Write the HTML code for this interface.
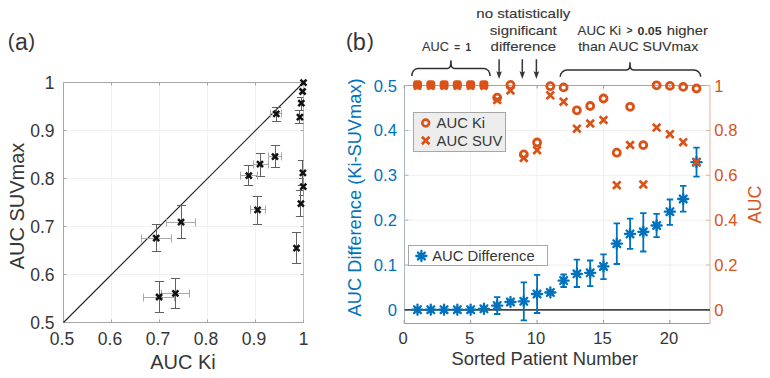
<!DOCTYPE html>
<html><head><meta charset="utf-8"><style>
html,body{margin:0;padding:0;background:#fff;}
svg{display:block;font-family:"Liberation Sans", sans-serif;}
</style></head><body>
<svg width="770" height="378" viewBox="0 0 770 378">
<text x="7.8" y="47.9" font-size="20.5" fill="#363636">(<tspan font-size="23" dy="2.4" dx="0.3">a</tspan><tspan dy="-2.4" dx="0.6">)</tspan></text>
<line x1="111.49999999999999" y1="82.5" x2="111.49999999999999" y2="322.5" stroke="#f1f1f1" stroke-width="1"/>
<line x1="63.5" y1="274.5" x2="303.5" y2="274.5" stroke="#f1f1f1" stroke-width="1"/>
<line x1="159.49999999999997" y1="82.5" x2="159.49999999999997" y2="322.5" stroke="#f1f1f1" stroke-width="1"/>
<line x1="63.5" y1="226.50000000000003" x2="303.5" y2="226.50000000000003" stroke="#f1f1f1" stroke-width="1"/>
<line x1="207.50000000000003" y1="82.5" x2="207.50000000000003" y2="322.5" stroke="#f1f1f1" stroke-width="1"/>
<line x1="63.5" y1="178.49999999999997" x2="303.5" y2="178.49999999999997" stroke="#f1f1f1" stroke-width="1"/>
<line x1="255.5" y1="82.5" x2="255.5" y2="322.5" stroke="#f1f1f1" stroke-width="1"/>
<line x1="63.5" y1="130.5" x2="303.5" y2="130.5" stroke="#f1f1f1" stroke-width="1"/>
<path d="M303.5,82.5H63.5V322.5H303.5" fill="none" stroke="#a6a6a6" stroke-width="1"/>
<line x1="303.5" y1="82.5" x2="303.5" y2="322.5" stroke="#c0c0c0" stroke-width="1"/>
<line x1="63.5" y1="322.5" x2="63.5" y2="319.5" stroke="#a6a6a6"/>
<line x1="63.5" y1="82.5" x2="63.5" y2="85.5" stroke="#a6a6a6"/>
<line x1="63.5" y1="322.5" x2="66.5" y2="322.5" stroke="#a6a6a6"/>
<line x1="303.5" y1="322.5" x2="300.5" y2="322.5" stroke="#a6a6a6"/>
<line x1="111.49999999999999" y1="322.5" x2="111.49999999999999" y2="319.5" stroke="#a6a6a6"/>
<line x1="111.49999999999999" y1="82.5" x2="111.49999999999999" y2="85.5" stroke="#a6a6a6"/>
<line x1="63.5" y1="274.5" x2="66.5" y2="274.5" stroke="#a6a6a6"/>
<line x1="303.5" y1="274.5" x2="300.5" y2="274.5" stroke="#a6a6a6"/>
<line x1="159.49999999999997" y1="322.5" x2="159.49999999999997" y2="319.5" stroke="#a6a6a6"/>
<line x1="159.49999999999997" y1="82.5" x2="159.49999999999997" y2="85.5" stroke="#a6a6a6"/>
<line x1="63.5" y1="226.50000000000003" x2="66.5" y2="226.50000000000003" stroke="#a6a6a6"/>
<line x1="303.5" y1="226.50000000000003" x2="300.5" y2="226.50000000000003" stroke="#a6a6a6"/>
<line x1="207.50000000000003" y1="322.5" x2="207.50000000000003" y2="319.5" stroke="#a6a6a6"/>
<line x1="207.50000000000003" y1="82.5" x2="207.50000000000003" y2="85.5" stroke="#a6a6a6"/>
<line x1="63.5" y1="178.49999999999997" x2="66.5" y2="178.49999999999997" stroke="#a6a6a6"/>
<line x1="303.5" y1="178.49999999999997" x2="300.5" y2="178.49999999999997" stroke="#a6a6a6"/>
<line x1="255.5" y1="322.5" x2="255.5" y2="319.5" stroke="#a6a6a6"/>
<line x1="255.5" y1="82.5" x2="255.5" y2="85.5" stroke="#a6a6a6"/>
<line x1="63.5" y1="130.5" x2="66.5" y2="130.5" stroke="#a6a6a6"/>
<line x1="303.5" y1="130.5" x2="300.5" y2="130.5" stroke="#a6a6a6"/>
<line x1="303.5" y1="322.5" x2="303.5" y2="319.5" stroke="#a6a6a6"/>
<line x1="303.5" y1="82.5" x2="303.5" y2="85.5" stroke="#a6a6a6"/>
<line x1="63.5" y1="82.5" x2="66.5" y2="82.5" stroke="#a6a6a6"/>
<line x1="303.5" y1="82.5" x2="300.5" y2="82.5" stroke="#a6a6a6"/>
<text x="62.0" y="344.7" font-size="17.5" fill="#363636" text-anchor="middle">0.5</text>
<text x="54.6" y="328.8" font-size="17.5" fill="#363636" text-anchor="end">0.5</text>
<text x="109.99999999999999" y="344.7" font-size="17.5" fill="#363636" text-anchor="middle">0.6</text>
<text x="54.6" y="280.8" font-size="17.5" fill="#363636" text-anchor="end">0.6</text>
<text x="157.99999999999997" y="344.7" font-size="17.5" fill="#363636" text-anchor="middle">0.7</text>
<text x="54.6" y="232.80000000000004" font-size="17.5" fill="#363636" text-anchor="end">0.7</text>
<text x="206.00000000000003" y="344.7" font-size="17.5" fill="#363636" text-anchor="middle">0.8</text>
<text x="54.6" y="184.79999999999998" font-size="17.5" fill="#363636" text-anchor="end">0.8</text>
<text x="254.0" y="344.7" font-size="17.5" fill="#363636" text-anchor="middle">0.9</text>
<text x="54.6" y="136.8" font-size="17.5" fill="#363636" text-anchor="end">0.9</text>
<text x="303.5" y="344.7" font-size="17.5" fill="#363636" text-anchor="middle">1</text>
<text x="54.6" y="88.8" font-size="17.5" fill="#363636" text-anchor="end">1</text>
<text x="183" y="368.7" font-size="20" fill="#363636" text-anchor="middle">AUC Ki</text>
<text transform="translate(23.7,206) rotate(-90)" x="0" y="0" font-size="20" fill="#363636" text-anchor="middle">AUC SUVmax</text>
<line x1="63.5" y1="322.5" x2="303.5" y2="82.5" stroke="#222" stroke-width="1.15"/>
<clipPath id="ca"><rect x="63.5" y="74.5" width="240.0" height="248.0"/></clipPath>
<g clip-path="url(#ca)">
<path d="M141.5,238.5H171.5M141.5,234.5V242.5M171.5,234.5V242.5" stroke="#a8a8a8" stroke-width="1" fill="none"/>
<path d="M156.5,224.5V251.5M151.9,224.5H161.1M151.9,251.5H161.1" stroke="#606060" stroke-width="1" fill="none"/>
<path d="M166.5,222.5H195.5M166.5,218.5V226.5M195.5,218.5V226.5" stroke="#a8a8a8" stroke-width="1" fill="none"/>
<path d="M181.5,205.5V238.5M176.9,205.5H186.1M176.9,238.5H186.1" stroke="#606060" stroke-width="1" fill="none"/>
<path d="M143.5,297.5H174.5M143.5,293.5V301.5M174.5,293.5V301.5" stroke="#a8a8a8" stroke-width="1" fill="none"/>
<path d="M159.5,281.5V312.5M154.9,281.5H164.1M154.9,312.5H164.1" stroke="#606060" stroke-width="1" fill="none"/>
<path d="M161.5,293.5H189.5M161.5,289.5V297.5M189.5,289.5V297.5" stroke="#a8a8a8" stroke-width="1" fill="none"/>
<path d="M175.5,278.5V308.5M170.9,278.5H180.1M170.9,308.5H180.1" stroke="#606060" stroke-width="1" fill="none"/>
<path d="M270.5,113.5H281.5M270.5,109.5V117.5M281.5,109.5V117.5" stroke="#a8a8a8" stroke-width="1" fill="none"/>
<path d="M276.5,107.5V121.5M271.9,107.5H281.1M271.9,121.5H281.1" stroke="#606060" stroke-width="1" fill="none"/>
<path d="M268.5,156.5H281.5M268.5,152.5V160.5M281.5,152.5V160.5" stroke="#a8a8a8" stroke-width="1" fill="none"/>
<path d="M275.5,145.5V167.5M270.9,145.5H280.1M270.9,167.5H280.1" stroke="#606060" stroke-width="1" fill="none"/>
<path d="M253.5,164.5H268.5M253.5,160.5V168.5M268.5,160.5V168.5" stroke="#a8a8a8" stroke-width="1" fill="none"/>
<path d="M260.5,153.5V176.5M255.9,153.5H265.1M255.9,176.5H265.1" stroke="#606060" stroke-width="1" fill="none"/>
<path d="M240.5,175.5H257.5M240.5,171.5V179.5M257.5,171.5V179.5" stroke="#a8a8a8" stroke-width="1" fill="none"/>
<path d="M248.5,165.5V185.5M243.9,165.5H253.1M243.9,185.5H253.1" stroke="#606060" stroke-width="1" fill="none"/>
<path d="M250.5,209.5H265.5M250.5,205.5V213.5M265.5,205.5V213.5" stroke="#a8a8a8" stroke-width="1" fill="none"/>
<path d="M257.5,196.5V224.5M252.9,196.5H262.1M252.9,224.5H262.1" stroke="#606060" stroke-width="1" fill="none"/>
<path d="M296.5,232.5V263.5M291.9,232.5H301.1M291.9,263.5H301.1" stroke="#606060" stroke-width="1" fill="none"/>
<path d="M301.5,97.5V110.5M296.9,97.5H306.1M296.9,110.5H306.1" stroke="#606060" stroke-width="1" fill="none"/>
<path d="M299.5,110.5V123.5M294.9,110.5H304.1M294.9,123.5H304.1" stroke="#606060" stroke-width="1" fill="none"/>
<path d="M302.5,160.5V185.5M297.9,160.5H307.1M297.9,185.5H307.1" stroke="#606060" stroke-width="1" fill="none"/>
<path d="M303.5,178.5V195.5M298.9,178.5H308.1M298.9,195.5H308.1" stroke="#606060" stroke-width="1" fill="none"/>
<path d="M300.5,190.5V216.5M295.9,190.5H305.1M295.9,216.5H305.1" stroke="#606060" stroke-width="1" fill="none"/>
</g>
<path d="M153.2,235.1L159.2,241.1M153.2,241.1L159.2,235.1" stroke="#111" stroke-width="2.5" fill="none"/>
<path d="M178.1,219.2L184.1,225.2M178.1,225.2L184.1,219.2" stroke="#111" stroke-width="2.5" fill="none"/>
<path d="M156.1,294.0L162.1,300.0M156.1,300.0L162.1,294.0" stroke="#111" stroke-width="2.5" fill="none"/>
<path d="M172.4,290.3L178.4,296.3M172.4,296.3L178.4,290.3" stroke="#111" stroke-width="2.5" fill="none"/>
<path d="M273.3,110.9L279.3,116.9M273.3,116.9L279.3,110.9" stroke="#111" stroke-width="2.5" fill="none"/>
<path d="M272.0,153.6L278.0,159.6M272.0,159.6L278.0,153.6" stroke="#111" stroke-width="2.5" fill="none"/>
<path d="M257.0,161.1L263.0,167.1M257.0,167.1L263.0,161.1" stroke="#111" stroke-width="2.5" fill="none"/>
<path d="M245.8,172.7L251.8,178.7M245.8,178.7L251.8,172.7" stroke="#111" stroke-width="2.5" fill="none"/>
<path d="M254.60000000000002,206.8L260.6,212.8M254.60000000000002,212.8L260.6,206.8" stroke="#111" stroke-width="2.5" fill="none"/>
<path d="M293.5,245.1L299.5,251.1M293.5,251.1L299.5,245.1" stroke="#111" stroke-width="2.5" fill="none"/>
<path d="M300.5,79.6L306.5,85.6M300.5,85.6L306.5,79.6" stroke="#111" stroke-width="2.5" fill="none"/>
<path d="M299.6,88.5L305.6,94.5M299.6,94.5L305.6,88.5" stroke="#111" stroke-width="2.5" fill="none"/>
<path d="M298.3,100.2L304.3,106.2M298.3,106.2L304.3,100.2" stroke="#111" stroke-width="2.5" fill="none"/>
<path d="M296.9,114.1L302.9,120.1M296.9,120.1L302.9,114.1" stroke="#111" stroke-width="2.5" fill="none"/>
<path d="M299.9,169.8L305.9,175.8M299.9,175.8L305.9,169.8" stroke="#111" stroke-width="2.5" fill="none"/>
<path d="M300.3,183.7L306.3,189.7M300.3,189.7L306.3,183.7" stroke="#111" stroke-width="2.5" fill="none"/>
<path d="M297.9,200.6L303.9,206.6M297.9,206.6L303.9,200.6" stroke="#111" stroke-width="2.5" fill="none"/>
<text x="345.9" y="48.2" font-size="20.5" fill="#363636">(<tspan font-size="23.5" dy="1.6">b</tspan><tspan dy="-1.6" dx="1.2">)</tspan></text>
<line x1="470.6" y1="85.5" x2="470.6" y2="323.5" stroke="#f0f0f0"/>
<line x1="537.1" y1="85.5" x2="537.1" y2="323.5" stroke="#f0f0f0"/>
<line x1="603.5" y1="85.5" x2="603.5" y2="323.5" stroke="#f0f0f0"/>
<line x1="669.9" y1="85.5" x2="669.9" y2="323.5" stroke="#f0f0f0"/>
<line x1="404.5" y1="265.0" x2="710.0" y2="265.0" stroke="#f0eeee"/>
<line x1="404.5" y1="220.2" x2="710.0" y2="220.2" stroke="#f0eeee"/>
<line x1="404.5" y1="175.3" x2="710.0" y2="175.3" stroke="#f0eeee"/>
<line x1="404.5" y1="130.5" x2="710.0" y2="130.5" stroke="#f0eeee"/>
<line x1="404.5" y1="323.5" x2="710.0" y2="323.5" stroke="#9a9a9a"/>
<line x1="404.5" y1="85.5" x2="710.0" y2="85.5" stroke="#a4a2a8"/>
<line x1="404.5" y1="85.5" x2="404.5" y2="323.5" stroke="#a8b6c4"/>
<line x1="710.0" y1="85.5" x2="710.0" y2="323.5" stroke="#e0b4a0"/>
<line x1="404.2" y1="323.5" x2="404.2" y2="320.0" stroke="#9a9a9a"/>
<line x1="404.2" y1="85.5" x2="404.2" y2="88.5" stroke="#9a9a9a"/>
<text x="403.2" y="343.9" font-size="16.6" fill="#363636" text-anchor="middle">0</text>
<line x1="470.6" y1="323.5" x2="470.6" y2="320.0" stroke="#9a9a9a"/>
<line x1="470.6" y1="85.5" x2="470.6" y2="88.5" stroke="#9a9a9a"/>
<text x="469.6" y="343.9" font-size="16.6" fill="#363636" text-anchor="middle">5</text>
<line x1="537.1" y1="323.5" x2="537.1" y2="320.0" stroke="#9a9a9a"/>
<line x1="537.1" y1="85.5" x2="537.1" y2="88.5" stroke="#9a9a9a"/>
<text x="536.1" y="343.9" font-size="16.6" fill="#363636" text-anchor="middle">10</text>
<line x1="603.5" y1="323.5" x2="603.5" y2="320.0" stroke="#9a9a9a"/>
<line x1="603.5" y1="85.5" x2="603.5" y2="88.5" stroke="#9a9a9a"/>
<text x="602.5" y="343.9" font-size="16.6" fill="#363636" text-anchor="middle">15</text>
<line x1="669.9" y1="323.5" x2="669.9" y2="320.0" stroke="#9a9a9a"/>
<line x1="669.9" y1="85.5" x2="669.9" y2="88.5" stroke="#9a9a9a"/>
<text x="668.9" y="343.9" font-size="16.6" fill="#363636" text-anchor="middle">20</text>
<line x1="404.5" y1="309.9" x2="408.5" y2="309.9" stroke="#a8b6c4"/>
<text x="396.9" y="315.8" font-size="16.6" fill="#0072BD" text-anchor="end">0</text>
<line x1="404.5" y1="265.0" x2="408.5" y2="265.0" stroke="#a8b6c4"/>
<text x="396.9" y="270.9" font-size="16.6" fill="#0072BD" text-anchor="end">0.1</text>
<line x1="404.5" y1="220.2" x2="408.5" y2="220.2" stroke="#a8b6c4"/>
<text x="396.9" y="226.1" font-size="16.6" fill="#0072BD" text-anchor="end">0.2</text>
<line x1="404.5" y1="175.3" x2="408.5" y2="175.3" stroke="#a8b6c4"/>
<text x="396.9" y="181.2" font-size="16.6" fill="#0072BD" text-anchor="end">0.3</text>
<line x1="404.5" y1="130.5" x2="408.5" y2="130.5" stroke="#a8b6c4"/>
<text x="396.9" y="136.4" font-size="16.6" fill="#0072BD" text-anchor="end">0.4</text>
<line x1="404.5" y1="85.6" x2="408.5" y2="85.6" stroke="#a8b6c4"/>
<text x="396.9" y="91.5" font-size="16.6" fill="#0072BD" text-anchor="end">0.5</text>
<line x1="710.0" y1="309.9" x2="706.0" y2="309.9" stroke="#e0b4a0"/>
<text x="714.3" y="315.8" font-size="16.6" fill="#D95319">0</text>
<line x1="710.0" y1="265.0" x2="706.0" y2="265.0" stroke="#e0b4a0"/>
<text x="714.3" y="270.9" font-size="16.6" fill="#D95319">0.2</text>
<line x1="710.0" y1="220.2" x2="706.0" y2="220.2" stroke="#e0b4a0"/>
<text x="714.3" y="226.1" font-size="16.6" fill="#D95319">0.4</text>
<line x1="710.0" y1="175.3" x2="706.0" y2="175.3" stroke="#e0b4a0"/>
<text x="714.3" y="181.2" font-size="16.6" fill="#D95319">0.6</text>
<line x1="710.0" y1="130.5" x2="706.0" y2="130.5" stroke="#e0b4a0"/>
<text x="714.3" y="136.4" font-size="16.6" fill="#D95319">0.8</text>
<line x1="710.0" y1="85.6" x2="706.0" y2="85.6" stroke="#e0b4a0"/>
<text x="714.3" y="91.5" font-size="16.6" fill="#D95319">1</text>
<text x="544.75" y="365.2" font-size="18.35" fill="#363636" text-anchor="middle">Sorted Patient Number</text>
<text transform="translate(360.6,197.4) rotate(-90)" font-size="18.25" fill="#0072BD" text-anchor="middle">AUC Difference (Ki-SUVmax)</text>
<text transform="translate(760.6,204.4) rotate(-90)" font-size="18" fill="#D95319" text-anchor="middle">AUC</text>
<line x1="404.5" y1="309.9" x2="710.0" y2="309.9" stroke="#454545" stroke-width="1.8"/>
<rect x="413.5" y="112.5" width="92" height="39" fill="#ededed" stroke="#a6a6a6"/>
<circle cx="425.7" cy="123" r="3.4" fill="none" stroke="#D95319" stroke-width="2.6"/>
<path d="M421.9,136.7L429.5,144.3M421.9,144.3L429.5,136.7" stroke="#D95319" stroke-width="2.7"/>
<text x="436.6" y="127.8" font-size="14.8" fill="#363636">AUC Ki</text>
<text x="436.6" y="146" font-size="14.8" fill="#363636">AUC SUV</text>
<rect x="408.5" y="245.5" width="139" height="20" fill="#ffffff" stroke="#a6a6a6"/>
<path d="M421.40,250.90L421.40,261.10M417.97,252.57L424.83,259.43M416.30,256.00L426.50,256.00M417.97,259.43L424.83,252.57" stroke="#0072BD" stroke-width="2.3" stroke-linecap="round" fill="none"/>
<text x="432.2" y="261.2" font-size="14.8" fill="#363636">AUC Difference</text>
<path d="M497.2,297.1V314.0M494.0,297.1H500.4M494.0,314.0H500.4" stroke="#0072BD" stroke-width="1.8" fill="none"/>
<path d="M523.8,282.3V320.3M520.6,282.3H527.0M520.6,320.3H527.0" stroke="#0072BD" stroke-width="1.8" fill="none"/>
<path d="M537.1,274.9V313.0M533.9,274.9H540.3M533.9,313.0H540.3" stroke="#0072BD" stroke-width="1.8" fill="none"/>
<path d="M563.6,274.5V287.0M560.4,274.5H566.8M560.4,287.0H566.8" stroke="#0072BD" stroke-width="1.8" fill="none"/>
<path d="M576.9,259.7V287.0M573.7,259.7H580.1M573.7,287.0H580.1" stroke="#0072BD" stroke-width="1.8" fill="none"/>
<path d="M590.2,260.5V286.1M587.0,260.5H593.4M587.0,286.1H593.4" stroke="#0072BD" stroke-width="1.8" fill="none"/>
<path d="M603.5,254.4V279.1M600.3,254.4H606.7M600.3,279.1H606.7" stroke="#0072BD" stroke-width="1.8" fill="none"/>
<path d="M616.8,223.4V264.0M613.6,223.4H620.0M613.6,264.0H620.0" stroke="#0072BD" stroke-width="1.8" fill="none"/>
<path d="M630.1,218.7V248.8M626.9,218.7H633.3M626.9,248.8H633.3" stroke="#0072BD" stroke-width="1.8" fill="none"/>
<path d="M643.3,213.2V251.5M640.1,213.2H646.5M640.1,251.5H646.5" stroke="#0072BD" stroke-width="1.8" fill="none"/>
<path d="M656.6,213.8V237.1M653.4,213.8H659.8M653.4,237.1H659.8" stroke="#0072BD" stroke-width="1.8" fill="none"/>
<path d="M669.9,199.5V224.8M666.7,199.5H673.1M666.7,224.8H673.1" stroke="#0072BD" stroke-width="1.8" fill="none"/>
<path d="M683.2,185.9V211.7M680.0,185.9H686.4M680.0,211.7H686.4" stroke="#0072BD" stroke-width="1.8" fill="none"/>
<path d="M696.5,147.6V176.6M693.3,147.6H699.7M693.3,176.6H699.7" stroke="#0072BD" stroke-width="1.8" fill="none"/>
<path d="M417.49,304.60L417.49,314.80M414.06,306.27L420.91,313.13M412.39,309.70L422.59,309.70M414.06,313.13L420.91,306.27" stroke="#0072BD" stroke-width="2.3" stroke-linecap="round" fill="none"/>
<path d="M430.77,304.60L430.77,314.80M427.35,306.27L434.20,313.13M425.67,309.70L435.87,309.70M427.35,313.13L434.20,306.27" stroke="#0072BD" stroke-width="2.3" stroke-linecap="round" fill="none"/>
<path d="M444.06,304.60L444.06,314.80M440.63,306.27L447.48,313.13M438.96,309.70L449.16,309.70M440.63,313.13L447.48,306.27" stroke="#0072BD" stroke-width="2.3" stroke-linecap="round" fill="none"/>
<path d="M457.34,304.60L457.34,314.80M453.92,306.27L460.77,313.13M452.24,309.70L462.44,309.70M453.92,313.13L460.77,306.27" stroke="#0072BD" stroke-width="2.3" stroke-linecap="round" fill="none"/>
<path d="M470.63,304.60L470.63,314.80M467.20,306.27L474.06,313.13M465.53,309.70L475.73,309.70M467.20,313.13L474.06,306.27" stroke="#0072BD" stroke-width="2.3" stroke-linecap="round" fill="none"/>
<path d="M483.92,303.70L483.92,313.90M480.49,305.37L487.34,312.23M478.82,308.80L489.02,308.80M480.49,312.23L487.34,305.37" stroke="#0072BD" stroke-width="2.3" stroke-linecap="round" fill="none"/>
<path d="M497.20,300.50L497.20,310.70M493.78,302.17L500.63,309.03M492.10,305.60L502.30,305.60M493.78,309.03L500.63,302.17" stroke="#0072BD" stroke-width="2.3" stroke-linecap="round" fill="none"/>
<path d="M510.49,296.90L510.49,307.10M507.06,298.57L513.91,305.43M505.39,302.00L515.59,302.00M507.06,305.43L513.91,298.57" stroke="#0072BD" stroke-width="2.3" stroke-linecap="round" fill="none"/>
<path d="M523.77,296.20L523.77,306.40M520.35,297.87L527.20,304.73M518.67,301.30L528.87,301.30M520.35,304.73L527.20,297.87" stroke="#0072BD" stroke-width="2.3" stroke-linecap="round" fill="none"/>
<path d="M537.06,288.90L537.06,299.10M533.63,290.57L540.49,297.43M531.96,294.00L542.16,294.00M533.63,297.43L540.49,290.57" stroke="#0072BD" stroke-width="2.3" stroke-linecap="round" fill="none"/>
<path d="M550.35,287.40L550.35,297.60M546.92,289.07L553.77,295.93M545.25,292.50L555.45,292.50M546.92,295.93L553.77,289.07" stroke="#0072BD" stroke-width="2.3" stroke-linecap="round" fill="none"/>
<path d="M563.63,275.50L563.63,285.70M560.21,277.17L567.06,284.03M558.53,280.60L568.73,280.60M560.21,284.03L567.06,277.17" stroke="#0072BD" stroke-width="2.3" stroke-linecap="round" fill="none"/>
<path d="M576.92,268.70L576.92,278.90M573.49,270.37L580.34,277.23M571.82,273.80L582.02,273.80M573.49,277.23L580.34,270.37" stroke="#0072BD" stroke-width="2.3" stroke-linecap="round" fill="none"/>
<path d="M590.20,267.70L590.20,277.90M586.78,269.37L593.63,276.23M585.10,272.80L595.30,272.80M586.78,276.23L593.63,269.37" stroke="#0072BD" stroke-width="2.3" stroke-linecap="round" fill="none"/>
<path d="M603.49,261.30L603.49,271.50M600.06,262.97L606.92,269.83M598.39,266.40L608.59,266.40M600.06,269.83L606.92,262.97" stroke="#0072BD" stroke-width="2.3" stroke-linecap="round" fill="none"/>
<path d="M616.78,238.60L616.78,248.80M613.35,240.27L620.20,247.13M611.68,243.70L621.88,243.70M613.35,247.13L620.20,240.27" stroke="#0072BD" stroke-width="2.3" stroke-linecap="round" fill="none"/>
<path d="M630.06,228.80L630.06,239.00M626.64,230.47L633.49,237.33M624.96,233.90L635.16,233.90M626.64,237.33L633.49,230.47" stroke="#0072BD" stroke-width="2.3" stroke-linecap="round" fill="none"/>
<path d="M643.35,226.70L643.35,236.90M639.92,228.37L646.77,235.23M638.25,231.80L648.45,231.80M639.92,235.23L646.77,228.37" stroke="#0072BD" stroke-width="2.3" stroke-linecap="round" fill="none"/>
<path d="M656.63,220.40L656.63,230.60M653.21,222.07L660.06,228.93M651.53,225.50L661.73,225.50M653.21,228.93L660.06,222.07" stroke="#0072BD" stroke-width="2.3" stroke-linecap="round" fill="none"/>
<path d="M669.92,206.60L669.92,216.80M666.49,208.27L673.35,215.13M664.82,211.70L675.02,211.70M666.49,215.13L673.35,208.27" stroke="#0072BD" stroke-width="2.3" stroke-linecap="round" fill="none"/>
<path d="M683.21,193.90L683.21,204.10M679.78,195.57L686.63,202.43M678.11,199.00L688.31,199.00M679.78,202.43L686.63,195.57" stroke="#0072BD" stroke-width="2.3" stroke-linecap="round" fill="none"/>
<path d="M696.49,157.10L696.49,167.30M693.07,158.77L699.92,165.63M691.39,162.20L701.59,162.20M693.07,165.63L699.92,158.77" stroke="#0072BD" stroke-width="2.3" stroke-linecap="round" fill="none"/>
<rect x="413.0" y="80.3" width="9" height="9.3" rx="3" fill="#D95319"/>
<path d="M414.2,83.0L420.8,89.6M414.2,89.6L420.8,83.0" stroke="#D95319" stroke-width="2.4"/>
<rect x="426.3" y="80.3" width="9" height="9.3" rx="3" fill="#D95319"/>
<path d="M427.5,83.0L434.1,89.6M427.5,89.6L434.1,83.0" stroke="#D95319" stroke-width="2.4"/>
<rect x="439.6" y="80.3" width="9" height="9.3" rx="3" fill="#D95319"/>
<path d="M440.8,83.0L447.4,89.6M440.8,89.6L447.4,83.0" stroke="#D95319" stroke-width="2.4"/>
<rect x="452.8" y="80.3" width="9" height="9.3" rx="3" fill="#D95319"/>
<path d="M454.0,83.0L460.6,89.6M454.0,89.6L460.6,83.0" stroke="#D95319" stroke-width="2.4"/>
<rect x="466.1" y="80.3" width="9" height="9.3" rx="3" fill="#D95319"/>
<path d="M467.3,83.0L473.9,89.6M467.3,89.6L473.9,83.0" stroke="#D95319" stroke-width="2.4"/>
<rect x="479.4" y="80.3" width="9" height="9.3" rx="3" fill="#D95319"/>
<path d="M480.6,83.0L487.2,89.6M480.6,89.6L487.2,83.0" stroke="#D95319" stroke-width="2.4"/>
<circle cx="497.2" cy="97.6" r="3.5" fill="none" stroke="#D95319" stroke-width="2.8"/>
<path d="M493.4,96.2L501.0,103.8M493.4,103.8L501.0,96.2" stroke="#D95319" stroke-width="2.7"/>
<circle cx="510.5" cy="84.9" r="3.5" fill="none" stroke="#D95319" stroke-width="2.8"/>
<path d="M506.7,86.7L514.3,94.3M506.7,94.3L514.3,86.7" stroke="#D95319" stroke-width="2.7"/>
<circle cx="523.8" cy="154.4" r="3.5" fill="none" stroke="#D95319" stroke-width="2.8"/>
<path d="M520.0,154.2L527.6,161.8M520.0,161.8L527.6,154.2" stroke="#D95319" stroke-width="2.7"/>
<circle cx="537.1" cy="142.5" r="3.5" fill="none" stroke="#D95319" stroke-width="2.8"/>
<path d="M533.3,146.39999999999998L540.9,154.0M533.3,154.0L540.9,146.39999999999998" stroke="#D95319" stroke-width="2.7"/>
<circle cx="550.3" cy="86.2" r="3.5" fill="none" stroke="#D95319" stroke-width="2.8"/>
<path d="M546.5,91.5L554.1,99.1M546.5,99.1L554.1,91.5" stroke="#D95319" stroke-width="2.7"/>
<circle cx="563.6" cy="87.4" r="3.5" fill="none" stroke="#D95319" stroke-width="2.8"/>
<path d="M559.8,97.9L567.4,105.5M559.8,105.5L567.4,97.9" stroke="#D95319" stroke-width="2.7"/>
<circle cx="576.9" cy="110.3" r="3.5" fill="none" stroke="#D95319" stroke-width="2.8"/>
<path d="M573.1,124.89999999999999L580.7,132.5M573.1,132.5L580.7,124.89999999999999" stroke="#D95319" stroke-width="2.7"/>
<circle cx="590.2" cy="106.0" r="3.5" fill="none" stroke="#D95319" stroke-width="2.8"/>
<path d="M586.4,119.7L594.0,127.3M586.4,127.3L594.0,119.7" stroke="#D95319" stroke-width="2.7"/>
<circle cx="603.5" cy="98.5" r="3.5" fill="none" stroke="#D95319" stroke-width="2.8"/>
<path d="M599.7,116.2L607.3,123.8M599.7,123.8L607.3,116.2" stroke="#D95319" stroke-width="2.7"/>
<circle cx="616.8" cy="152.7" r="3.5" fill="none" stroke="#D95319" stroke-width="2.8"/>
<path d="M613.0,181.39999999999998L620.6,189.0M613.0,189.0L620.6,181.39999999999998" stroke="#D95319" stroke-width="2.7"/>
<circle cx="630.1" cy="106.8" r="3.5" fill="none" stroke="#D95319" stroke-width="2.8"/>
<path d="M626.3,141.2L633.9,148.8M626.3,148.8L633.9,141.2" stroke="#D95319" stroke-width="2.7"/>
<circle cx="643.3" cy="145.1" r="3.5" fill="none" stroke="#D95319" stroke-width="2.8"/>
<path d="M639.5,180.6L647.1,188.20000000000002M639.5,188.20000000000002L647.1,180.6" stroke="#D95319" stroke-width="2.7"/>
<circle cx="656.6" cy="85.3" r="3.5" fill="none" stroke="#D95319" stroke-width="2.8"/>
<path d="M652.8,123.8L660.4,131.4M652.8,131.4L660.4,123.8" stroke="#D95319" stroke-width="2.7"/>
<circle cx="669.9" cy="85.9" r="3.5" fill="none" stroke="#D95319" stroke-width="2.8"/>
<path d="M666.1,130.39999999999998L673.7,138.0M666.1,138.0L673.7,130.39999999999998" stroke="#D95319" stroke-width="2.7"/>
<circle cx="683.2" cy="86.9" r="3.5" fill="none" stroke="#D95319" stroke-width="2.8"/>
<path d="M679.4,138.39999999999998L687.0,146.0M679.4,146.0L687.0,138.39999999999998" stroke="#D95319" stroke-width="2.7"/>
<circle cx="696.5" cy="88.5" r="3.5" fill="none" stroke="#D95319" stroke-width="2.8"/>
<path d="M692.7,158.39999999999998L700.3,166.0M692.7,166.0L700.3,158.39999999999998" stroke="#D95319" stroke-width="2.7"/>
<text x="422" y="50.8" font-size="13" fill="#363636" stroke="#363636" stroke-width="0.12" textLength="26.8" lengthAdjust="spacingAndGlyphs">AUC</text>
<text x="454.3" y="50.8" font-size="10" font-weight="bold" fill="#363636" textLength="5.8" lengthAdjust="spacingAndGlyphs">=</text>
<text x="465.6" y="50.8" font-size="10" font-weight="bold" fill="#363636">1</text>
<text x="523.3" y="18.3" font-size="13.5" fill="#363636" stroke="#363636" stroke-width="0.12" text-anchor="middle" textLength="94" lengthAdjust="spacingAndGlyphs">no statistically</text>
<text x="523.3" y="34.6" font-size="13.5" fill="#363636" stroke="#363636" stroke-width="0.12" text-anchor="middle" textLength="67" lengthAdjust="spacingAndGlyphs">significant</text>
<text x="523.3" y="50.5" font-size="13.5" fill="#363636" stroke="#363636" stroke-width="0.12" text-anchor="middle" textLength="65.5" lengthAdjust="spacingAndGlyphs">difference</text>
<text x="577.6" y="34.6" font-size="13.5" fill="#363636" stroke="#363636" stroke-width="0.12" textLength="43.4" lengthAdjust="spacingAndGlyphs">AUC Ki</text>
<text x="626.5" y="34.2" font-size="10" font-weight="bold" fill="#363636" textLength="6" lengthAdjust="spacingAndGlyphs">&gt;</text>
<text x="637.5" y="34.6" font-size="10" font-weight="bold" fill="#363636" textLength="24.2" lengthAdjust="spacingAndGlyphs">0.05</text>
<text x="666.8" y="34.6" font-size="13.5" fill="#363636" stroke="#363636" stroke-width="0.12" textLength="41.2" lengthAdjust="spacingAndGlyphs">higher</text>
<text x="578.2" y="50.6" font-size="13.5" fill="#363636" stroke="#363636" stroke-width="0.12" textLength="120" lengthAdjust="spacingAndGlyphs">than AUC SUVmax</text>
<path d="M411.8,76 C411.8,71.82 414.50,68.4 417.8,68.4 L447.4,68.4 C450.09999999999997,68.4 450.9,66.9 450.9,60.2 C450.9,66.9 451.7,68.4 454.4,68.4 L484.1,68.4 C487.40,68.4 490.1,71.82 490.1,76" fill="none" stroke="#303030" stroke-width="1.5"/>
<path d="M560.2,76.8 C560.2,73.00 563.35,69.9 567.2,69.9 L626.5,69.9 C629.2,69.9 630.0,68.4 630.0,62.3 C630.0,68.4 630.8,69.9 633.5,69.9 L693.7,69.9 C697.55,69.9 700.7,73.00 700.7,76.8" fill="none" stroke="#303030" stroke-width="1.5"/>
<line x1="499.1" y1="59.2" x2="499.1" y2="74" stroke="#363636" stroke-width="1.5"/>
<path d="M496.3,71.3 L499.1,72.6 L501.90000000000003,71.3 L499.1,79 Z" fill="#363636"/>
<line x1="522.3" y1="59.2" x2="522.3" y2="74" stroke="#363636" stroke-width="1.5"/>
<path d="M519.5,71.3 L522.3,72.6 L525.0999999999999,71.3 L522.3,79 Z" fill="#363636"/>
<line x1="536.4" y1="59.2" x2="536.4" y2="74" stroke="#363636" stroke-width="1.5"/>
<path d="M533.6,71.3 L536.4,72.6 L539.1999999999999,71.3 L536.4,79 Z" fill="#363636"/>
</svg>
</body></html>
